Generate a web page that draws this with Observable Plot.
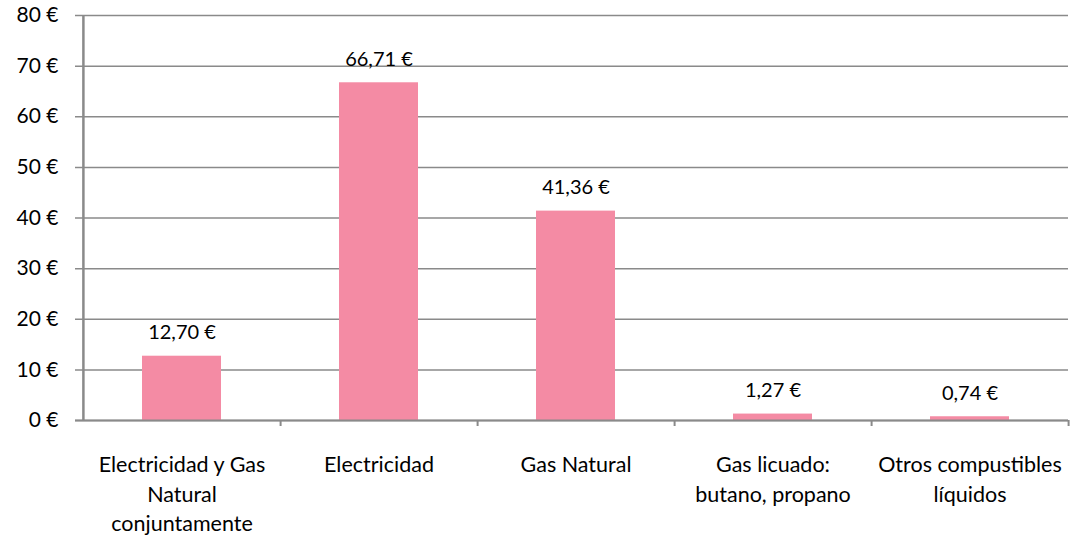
<!DOCTYPE html>
<html>
<head>
<meta charset="utf-8">
<script src="https://cdn.jsdelivr.net/npm/d3@7"></script>
<script src="https://cdn.jsdelivr.net/npm/@observablehq/plot@0.6"></script>
<style>
  body { margin: 0; background: #fff; }
  #chart svg { display: block; }
</style>
</head>
<body>
<div id="chart"></div>
<script>
const categories = ["Electricidad y Gas Natural conjuntamente", "Electricidad", "Gas Natural", "Gas licuado: butano, propano", "Otros compustibles líquidos"];
const tickLabels = ["Electricidad y Gas\nNatural\nconjuntamente", "Electricidad", "Gas Natural", "Gas licuado:\nbutano, propano", "Otros compustibles\nlíquidos"];
const values = [12.70, 66.71, 41.36, 1.27, 0.74];
const valueLabels = ["12,70 €", "66,71 €", "41,36 €", "1,27 €", "0,74 €"];
const yTicks = [0, 10, 20, 30, 40, 50, 60, 70, 80];

const data = categories.map((c, i) => ({cat: c, value: values[i], label: valueLabels[i]}));

const W = 1070, H = 535, mL = 82, mR = 2, mT = 15, mB = 115;
const step = (W - mL - mR) / categories.length;
const grid = "#8a8a8a";
const font = "Lato, 'Open Sans', sans-serif";

const chart = Plot.plot({
  width: W,
  height: H,
  marginLeft: mL,
  marginRight: mR,
  marginTop: mT,
  marginBottom: mB,
  style: {fontFamily: font, fontSize: "21px", color: "#000", background: "#fff"},
  x: {domain: categories, paddingInner: 0.6, paddingOuter: 0.3},
  y: {domain: [0, 80]},
  marks: [
    Plot.ruleY(yTicks, {y: d => d, stroke: grid, strokeWidth: 1.5, insetLeft: -7}),
    Plot.barY(data, {x: "cat", y: "value", fill: "#F48BA4"}),
    Plot.ruleX([categories[0]], {x: d => d, dx: -step / 2, y1: 0, y2: 80, stroke: grid, strokeWidth: 2.5}),
    Plot.ruleX(categories, {x: d => d, dx: step / 2, y1: 0, y2: 0, insetBottom: -6, stroke: grid, strokeWidth: 2}),
    Plot.ruleY([0], {stroke: grid, strokeWidth: 2, insetLeft: -7}),
    Plot.text(data, {x: "cat", y: "value", text: "label", dy: -17, lineAnchor: "bottom", fontSize: 20, fill: "#000"}),
    Plot.axisY({ticks: yTicks, tickFormat: d => d + " €", tickSize: 0, tickPadding: 24, fontSize: 21, fill: "#000", label: null}),
    Plot.axisX({tickFormat: (d, i) => tickLabels[categories.indexOf(d)], tickSize: 0, tickPadding: 31, fontSize: 21.5, lineHeight: 1.36, fill: "#000", label: null})
  ]
});
document.getElementById("chart").appendChild(chart);
</script>
</body>
</html>
